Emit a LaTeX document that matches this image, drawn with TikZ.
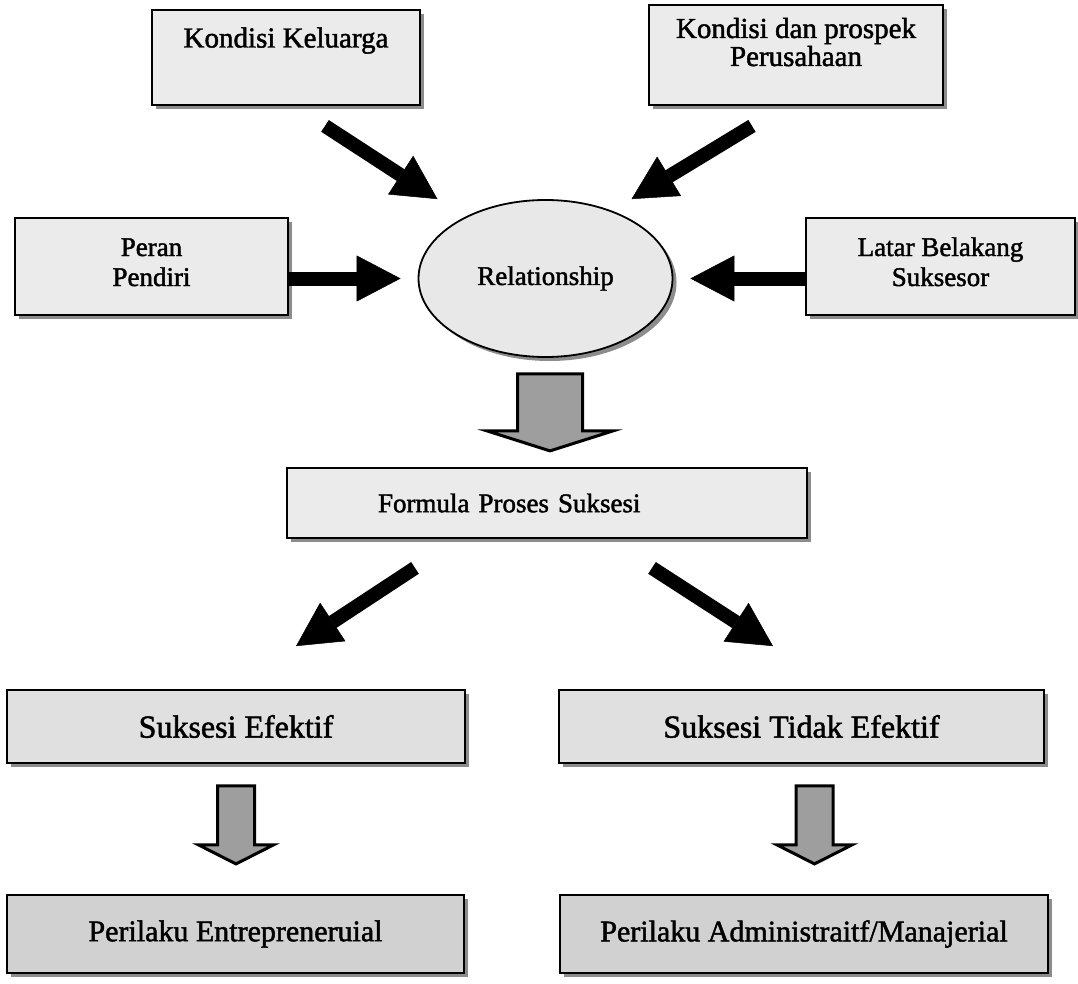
\documentclass[tikz,border=0pt]{standalone}
\usepackage{fontspec}
\setmainfont{Liberation Serif}[FakeBold=1.6]
\usetikzlibrary{arrows.meta,calc,shapes.geometric,shadows}
\definecolor{boxfill}{gray}{0.92}
\definecolor{midfill}{gray}{0.88}
\definecolor{lowfill}{gray}{0.82}
\definecolor{ovalfill}{gray}{0.91}
\definecolor{arrowfill}{gray}{0.62}
\definecolor{shadefill}{gray}{0.55}
\tikzset{
  box/.style={rectangle,draw,line width=1.8pt,fill=boxfill,inner sep=0pt,align=center,
    drop shadow={shadow xshift=4pt,shadow yshift=-4pt,fill=shadefill,opacity=1}},
  midbox/.style={box,fill=midfill},
  lowbox/.style={box,fill=lowfill},
  oval/.style={ellipse,draw,line width=1.8pt,fill=ovalfill,inner sep=0pt,
    drop shadow={shadow xshift=4pt,shadow yshift=-4pt,fill=shadefill,opacity=1}},
  bigarrow/.style={line width=14pt,-{Triangle[length=44pt,width=46pt,line width=0.5pt]}},
  fatarrow/.style={draw,line width=3pt,fill=arrowfill,line join=miter},
  pics/downarrow/.style n args={4}{code={
    \draw[fatarrow] (-#1,0) -- (#1,0) -- (#1,#3) -- (#2,#3) -- (0,#4) -- (-#2,#3) -- (-#1,#3) -- cycle;}},
  topfont/.style={font=\fontsize{29}{28}\selectfont},
  sidefont/.style={font=\fontsize{27}{30}\selectfont},
  midfont/.style={font=\fontsize{27}{28}\selectfont},
  bigfont/.style={font=\fontsize{32}{34}\selectfont},
  lowfont/.style={font=\fontsize{30}{32}\selectfont}
}
\begin{document}
\begin{tikzpicture}[x=1pt,y=-1pt]
\useasboundingbox (0,0) rectangle (1078,984);

% factors
\node[box,topfont,minimum width=268pt,minimum height=95pt,text height=20pt,text depth=40pt] (kk) at (286,57.5) {Kondisi Keluarga};
\node[box,topfont,minimum width=294pt,minimum height=100pt,text height=48pt,text depth=26pt] (kp) at (796,55) {Kondisi dan prospek\\Perusahaan};
\node[box,sidefont,minimum width=273pt,minimum height=97pt,text height=50pt,text depth=11pt] (pd) at (151.5,266.5) {Peran\\Pendiri};
\node[box,sidefont,minimum width=269pt,minimum height=97pt,text height=50pt,text depth=11pt] (lb) at (940.5,266.5) {Latar Belakang\\Suksesor};
\node[oval,sidefont,minimum width=254pt,minimum height=157pt] (rel) at (545.5,278.5) {Relationship};

% process and outcomes
\node[box,midfont,minimum width=520pt,minimum height=70pt,text width=338pt,align=left] (fps) at (547,503) {Formula Proses Suksesi};
\node[midbox,bigfont,minimum width=458pt,minimum height=73pt] (se) at (236,726.5) {Suksesi Efektif};
\node[midbox,bigfont,minimum width=485pt,minimum height=73pt] (ste) at (801.5,726.5) {Suksesi Tidak Efektif};
\node[lowbox,lowfont,minimum width=457pt,minimum height=78pt] (pe) at (235.5,934) {Perilaku Entrepreneruial};
\node[lowbox,lowfont,minimum width=488pt,minimum height=78pt] (pa) at (804,934) {Perilaku Administraitf/Manajerial};

% arrow ends
\coordinate (a1) at ($(kk.south)+(39,20)$);
\coordinate (b1) at ($(rel.north)+(-108,0)$);
\coordinate (a2) at ($(kp.south)+(-44,20)$);
\coordinate (b2) at ($(rel.north)+(86,0)$);
\coordinate (b3) at ($(rel.west)+(-17,0)$);
\coordinate (b4) at ($(rel.east)+(17,0)$);
\coordinate (a5) at ($(fps.south)+(-132,29)$);
\coordinate (b5) at ($(se.north)+(60,-43)$);
\coordinate (a6) at ($(fps.south)+(105,29)$);
\coordinate (b6) at ($(ste.north)+(-28.5,-43)$);

% black arrows
\draw[bigarrow] (a1) -- (b1);
\draw[bigarrow] (a2) -- (b2);
\draw[bigarrow] (pd.east |- rel) -- (b3);
\draw[bigarrow] (lb.west |- rel) -- (b4);
\draw[bigarrow] (a5) -- (b5);
\draw[bigarrow] (a6) -- (b6);

% grey block arrows
\pic at ($(rel.south)+(4.5,16)$) {downarrow={32.5}{63}{57}{77}};
\pic at ($(se.south)+(0,22)$) {downarrow={18.5}{37.5}{59}{78}};
\pic at ($(ste.south)+(13,22)$) {downarrow={18.5}{37.5}{59}{78}};
\end{tikzpicture}
\end{document}
